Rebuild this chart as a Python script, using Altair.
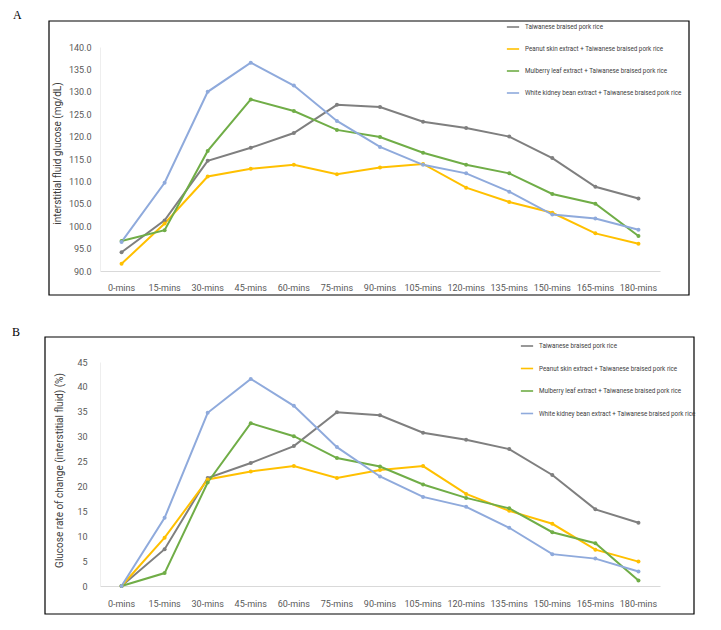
import altair as alt
import pandas as pd

times = ["0-mins", "15-mins", "30-mins", "45-mins", "60-mins", "75-mins", "90-mins",
         "105-mins", "120-mins", "135-mins", "150-mins", "165-mins", "180-mins"]
series = ["Taiwanese braised pork rice",
          "Peanut skin extract + Taiwanese braised pork rice",
          "Mulberry leaf extract + Taiwanese braised pork rice",
          "White kidney bean extract + Taiwanese braised pork rice"]
colors = ["#7f7f7f", "#ffc000", "#70ad47", "#8faadc"]

# Panel A: interstitial fluid glucose (mg/dL)
gray_a = [94.2, 101.3, 114.6, 117.5, 120.8, 127.1, 126.6, 123.3, 121.9, 120.0, 115.2, 108.8, 106.2]
yellow_a = [91.6, 100.6, 111.1, 112.8, 113.7, 111.6, 113.1, 113.9, 108.6, 105.4, 103.0, 98.4, 96.1]
green_a = [96.7, 99.1, 116.8, 128.3, 125.7, 121.5, 119.9, 116.4, 113.7, 111.8, 107.2, 105.0, 97.8]
blue_a = [96.5, 109.7, 130.0, 136.5, 131.4, 123.5, 117.7, 113.7, 111.8, 107.7, 102.6, 101.7, 99.2]

# Panel B: glucose rate of change (%)
gray_b = [0, 7.4, 21.7, 24.7, 28.1, 34.9, 34.3, 30.8, 29.4, 27.5, 22.3, 15.4, 12.7]
yellow_b = [0, 9.7, 21.4, 23.0, 24.1, 21.7, 23.3, 24.1, 18.5, 15.1, 12.5, 7.3, 4.9]
green_b = [0, 2.6, 20.8, 32.7, 30.1, 25.7, 24.0, 20.4, 17.7, 15.6, 10.8, 8.6, 1.1]
blue_b = [0, 13.7, 34.8, 41.6, 36.2, 27.9, 22.0, 17.9, 15.9, 11.7, 6.4, 5.5, 2.9]


def long_df(vals):
    rows = []
    for s, v in zip(series, vals):
        for i, (t, y) in enumerate(zip(times, v)):
            rows.append({"time": t, "idx": i, "series": s, "value": y})
    return pd.DataFrame(rows)


df_a = long_df([gray_a, yellow_a, green_a, blue_a])
df_b = long_df([gray_b, yellow_b, green_b, blue_b])

W, H = 560, 224
FONT = "Roboto"


def panel(df, ydomain, ystep, yfmt, ytitle, title_x, title_y, lab_pad, xlab_pad,
          leg_x, leg_y, leg_gap, letter, letter_xy, box):
    xenc = alt.X("time:N", sort=times,
                 scale=alt.Scale(paddingInner=0, paddingOuter=0, type="band"),
                 axis=alt.Axis(title=None, labelAngle=0, labelFont=FONT, labelFontSize=9,
                               labelColor="#595959", ticks=False, domainColor="#d9d9d9",
                               labelPadding=xlab_pad, labelOverlap=False, grid=False))
    yenc = alt.Y("value:Q",
                 scale=alt.Scale(domain=ydomain, nice=False, zero=False),
                 axis=alt.Axis(title=ytitle, values=list(range(ydomain[0], ydomain[1] + 1, ystep)),
                               format=yfmt, labelFont=FONT, labelFontSize=9,
                               labelColor="#595959", ticks=False, domainColor="#eeeeee",
                               grid=False, labelPadding=lab_pad,
                               titleFont=FONT, titleFontSize=10, titleFontWeight="normal",
                               titleColor="#404040", titleX=title_x, titleY=title_y,
                               titleBaseline="middle", titleAlign="center", titleAngle=270))
    leg = alt.Legend(title=None, orient="none", legendX=leg_x, legendY=leg_y,
                     symbolType="stroke", symbolSize=150, symbolStrokeWidth=1.6,
                     labelFont=FONT, labelFontSize=6.3, labelColor="#404040",
                     labelLimit=0, labelOffset=5, rowPadding=leg_gap, padding=0)
    cenc = alt.Color("series:N", scale=alt.Scale(domain=series, range=colors), legend=leg)
    base = alt.Chart(df).encode(x=xenc, y=yenc, color=cenc,
                                order=alt.Order("idx:Q"))
    lines = base.mark_line(strokeWidth=2)
    pts = base.mark_point(filled=True, size=16, opacity=1)
    one = alt.Data(values=[{"k": 1}])
    frame = alt.Chart(one).mark_rect(filled=False, stroke="black", strokeWidth=1.2).encode(
        x=alt.value(box[0]), x2=alt.value(box[1]), y=alt.value(box[2]), y2=alt.value(box[3]))
    lab = alt.Chart(one).mark_text(text=letter, font="Liberation Serif", fontSize=12,
                                   align="left", baseline="alphabetic", color="black").encode(
        x=alt.value(letter_xy[0]), y=alt.value(letter_xy[1]))
    layers = [frame, lab, lines, pts]
    return layers


one = alt.Data(values=[{"k": 1}])
anchor = alt.Chart(one).mark_rect(fill="white", stroke=None).encode(
    x=alt.value(-92), x2=alt.value(-91), y=alt.value(-38), y2=alt.value(-37))

la = panel(df_a, [90, 140], 5, ".1f", "interstitial fluid glucose (mg/dL)",
           -43, H / 2 - 6, 9, 12, 406, -27, 11, "A", (-87, -28.5), (-51, 589, -26, 248))
lb = panel(df_b, [0, 45], 5, "d", "Glucose rate of change (interstitial fluid) (%)",
           -41, H / 2 - 4, 13, 13, 420, -23, 11.5, "B", (-88, -26), (-55, 594, -25, 252))

ca = alt.layer(anchor, *la).properties(width=W, height=H)
cb = alt.layer(*lb).properties(width=W, height=H)

chart = alt.vconcat(ca, cb, spacing=91, bounds="flush").properties(padding=0).configure_view(
    stroke=None).resolve_scale(color="independent")

chart.save("out.html", embed_options={"renderer": "svg", "actions": False})
